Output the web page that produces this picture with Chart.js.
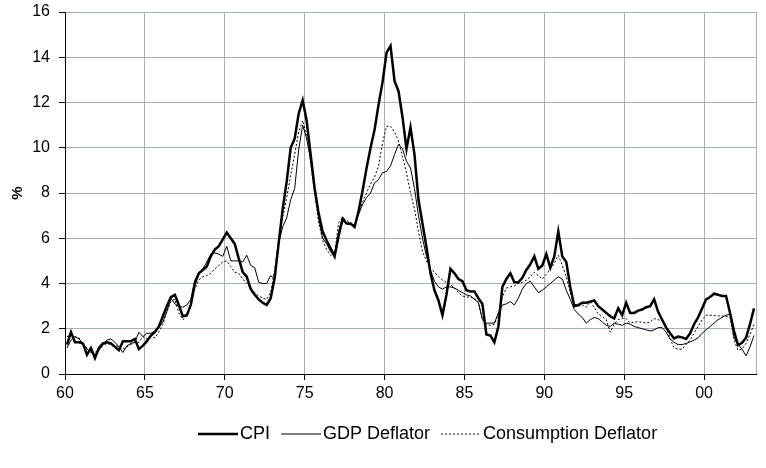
<!DOCTYPE html>
<html>
<head>
<meta charset="utf-8">
<script src="https://cdn.jsdelivr.net/npm/chart.js@4.4.1/dist/chart.umd.min.js"></script>
<style>
  html, body { margin: 0; padding: 0; background: #fff; }
</style>
</head>
<body>
<canvas id="chart" width="766" height="468"></canvas>
<script>
// Inflation, year on year (%), quarterly from 1960Q1
const startYear = 60;

const cpi = [
  1.3, 1.85, 1.4, 1.4, 1.35, 0.85, 1.15, 0.7, 1.15, 1.35,
  1.4, 1.35, 1.2, 1.05, 1.45, 1.45, 1.45, 1.55, 1.1, 1.25,
  1.45, 1.7, 1.85, 2.1, 2.55, 3.0, 3.4, 3.5, 3.05, 2.55,
  2.6, 3.05, 4.0, 4.45, 4.6, 4.75, 5.2, 5.5, 5.65, 5.95,
  6.25, 6.0, 5.75, 5.1, 4.5, 4.3, 3.75, 3.5, 3.3, 3.15,
  3.05, 3.35, 4.25, 5.8, 7.3, 8.5, 10.0, 10.4, 11.5, 12.1,
  11.2, 9.7, 8.2, 7.1, 6.3, 5.9, 5.55, 5.2, 6.1, 6.85,
  6.65, 6.65, 6.5, 7.2, 8.1, 9.1, 10.0, 10.8, 11.9, 12.9,
  14.2, 14.5, 12.95, 12.5, 11.35, 9.95, 10.9, 9.7, 7.7, 6.65,
  5.6, 4.45, 3.7, 3.25, 2.6, 3.5, 4.65, 4.45, 4.2, 4.1,
  3.7, 3.65, 3.65, 3.35, 3.1, 1.75, 1.7, 1.4, 2.1, 3.85,
  4.2, 4.45, 4.05, 4.05, 4.25, 4.6, 4.85, 5.2, 4.65, 4.8,
  5.3, 4.7, 5.2, 6.3, 5.2, 4.95, 3.85, 3.0, 3.05, 3.15,
  3.15, 3.2, 3.25, 3.0, 2.85, 2.7, 2.55, 2.45, 2.9, 2.6,
  3.15, 2.7, 2.7, 2.8, 2.85, 2.95, 3.0, 3.3, 2.75, 2.4,
  2.05, 1.8, 1.57, 1.65, 1.62, 1.55, 1.8, 2.2, 2.5, 2.9,
  3.3, 3.4, 3.55, 3.5, 3.45, 3.45, 2.7, 1.9, 1.28, 1.38,
  1.6, 2.2, 2.9
];

const gdpDeflator = [
  1.15, 1.5, 1.65, 1.55, 1.35, 1.1, 0.95, 0.85, 1.05, 1.3,
  1.5, 1.55, 1.4, 1.2, 0.95, 1.25, 1.35, 1.4, 1.85, 1.65,
  1.8, 1.8, 1.9, 2.05, 2.3, 2.75, 3.35, 3.1, 3.0, 2.95,
  3.05, 3.3, 4.15, 4.45, 4.65, 4.95, 5.3, 5.35, 5.3, 5.2,
  5.65, 5.0, 5.0, 5.0, 4.95, 5.25, 4.8, 4.7, 4.05, 4.0,
  4.0, 4.35, 4.2, 5.8, 6.5, 6.9, 7.7, 8.2, 9.9, 11.0,
  10.4, 9.5, 8.2, 6.9, 6.0, 5.75, 5.4, 5.25, 6.3, 6.95,
  6.65, 6.6, 6.6, 7.05, 7.5, 7.8, 8.0, 8.45, 8.6, 8.9,
  8.95, 9.2, 9.7, 10.15, 9.95, 9.4, 9.1, 8.2, 7.0, 6.0,
  5.2, 4.6, 4.1, 3.85, 3.75, 3.85, 3.85, 3.8, 3.7, 3.6,
  3.5, 3.45, 3.3, 3.15, 2.4, 2.25, 2.25, 2.25, 2.7, 3.05,
  3.1, 3.2, 3.05, 3.35, 3.75, 4.0, 4.1, 3.85, 3.6, 3.7,
  3.85, 4.0, 4.15, 4.3, 4.2, 3.7, 3.3, 2.85, 2.65, 2.5,
  2.25, 2.4, 2.5, 2.45, 2.3, 2.15, 2.1, 2.25, 2.2, 2.15,
  2.25, 2.2, 2.1, 2.05, 2.0, 1.95, 1.9, 1.95, 2.05, 2.05,
  1.85, 1.55, 1.4, 1.3, 1.3, 1.35, 1.42, 1.5, 1.6, 1.8,
  1.95, 2.1, 2.25, 2.4, 2.5, 2.6, 2.65, 1.6, 1.3, 1.1,
  0.8, 1.2, 1.7
];

const consumptionDeflator = [
  1.65, 1.7, 1.65, 1.6, 1.3, 1.15, 0.95, 0.95, 1.1, 1.25,
  1.35, 1.3, 1.25, 1.2, 1.1, 1.2, 1.3, 1.4, 1.4, 1.65,
  1.55, 1.65, 1.6, 1.85, 2.2, 2.75, 3.2, 3.3, 2.7, 2.4,
  2.55, 3.1, 3.75, 4.15, 4.3, 4.35, 4.45, 4.65, 4.8, 4.95,
  5.0, 4.75, 4.5, 4.45, 4.2, 4.0, 3.8, 3.6, 3.45, 3.35,
  3.3, 3.6, 4.6, 5.9, 6.9, 7.8, 8.8, 9.7, 10.7, 11.2,
  10.6, 9.3, 8.0, 6.7, 5.9, 5.5, 5.25, 5.3, 6.7, 6.9,
  6.8, 6.65, 6.5, 7.15, 7.6, 8.0, 8.4, 8.7, 9.2, 10.2,
  10.95, 10.95, 10.7, 10.3, 9.6, 8.9, 8.0, 7.3, 6.3, 5.4,
  5.0, 4.65, 4.5, 4.3, 4.15, 4.05, 3.95, 3.8, 3.6, 3.45,
  3.4, 3.4, 3.35, 3.2, 2.4, 2.2, 2.15, 2.2, 2.65, 3.4,
  3.8, 3.85, 3.9, 4.0, 4.05, 4.15, 4.3, 4.5, 4.35, 4.2,
  4.4, 4.65, 4.9, 5.25, 4.8, 4.3, 3.6, 3.1, 3.0, 3.05,
  2.95, 3.2, 2.95, 2.65, 2.55, 2.4, 1.85, 2.2, 2.4, 2.45,
  2.45, 2.25, 2.3, 2.3, 2.3, 2.25, 2.3, 2.45, 2.4, 2.35,
  2.1, 1.55, 1.15, 1.1, 1.1, 1.3, 1.5, 1.8, 2.1, 2.4,
  2.6, 2.6, 2.58, 2.57, 2.56, 2.55, 2.5, 1.5, 1.05, 1.1,
  1.35, 1.75, 2.2
];

const xTicks = [60, 65, 70, 75, 80, 85, 90, 95, 100];
const yTicks = [0, 2, 4, 6, 8, 10, 12, 14, 16];

// each quarter sits in the middle of its slot
const quarterX = cpi.map((_, i) => startYear + (i + 0.5) / 4);
const toPoints = arr => arr.map((v, i) => ({ x: quarterX[i], y: v }));

const fontFamily = '"Liberation Sans", Arial, sans-serif';
const gridColor = '#a7b1ba';

// grey frame line on the right side of the plot
const rightBorder = {
  id: 'rightBorder',
  beforeDatasetsDraw(chart) {
    const { ctx, chartArea } = chart;
    ctx.save();
    ctx.strokeStyle = gridColor;
    ctx.lineWidth = 1;
    ctx.beginPath();
    ctx.moveTo(chartArea.right + 0.5, chartArea.top);
    ctx.lineTo(chartArea.right + 0.5, chartArea.bottom);
    ctx.stroke();
    ctx.restore();
  }
};

// legend row under the axis: line sample, then the label
const bottomLegend = {
  id: 'bottomLegend',
  afterDraw(chart) {
    const ctx = chart.ctx;
    const y = 434;
    let x = 198;
    ctx.save();
    ctx.font = '18px ' + fontFamily;
    ctx.textBaseline = 'middle';
    ctx.fillStyle = '#000';
    chart.data.datasets.forEach(ds => {
      ctx.beginPath();
      ctx.lineWidth = ds.borderWidth;
      ctx.strokeStyle = ds.borderColor;
      ctx.setLineDash(ds.borderDash || []);
      ctx.moveTo(x, y);
      ctx.lineTo(x + 40, y);
      ctx.stroke();
      ctx.setLineDash([]);
      x += 42;
      ctx.fillText(ds.label, x, y);
      x += ctx.measureText(ds.label).width + 11;
    });
    ctx.restore();
  }
};

new Chart(document.getElementById('chart'), {
  type: 'line',
  data: {
    datasets: [
      {
        label: 'CPI',
        data: toPoints(cpi),
        borderColor: '#000',
        borderWidth: 2.5
      },
      {
        label: 'GDP Deflator',
        data: toPoints(gdpDeflator),
        borderColor: '#000',
        borderWidth: 1
      },
      {
        label: 'Consumption Deflator',
        data: toPoints(consumptionDeflator),
        borderColor: '#000',
        borderWidth: 1,
        borderDash: [2, 2]
      }
    ]
  },
  options: {
    responsive: false,
    animation: false,
    devicePixelRatio: 1,
    layout: { padding: { left: 0, right: 10, top: 12, bottom: 64 } },
    elements: {
      point: { radius: 0 },
      line: { tension: 0, fill: false }
    },
    plugins: {
      legend: { display: false },
      tooltip: { enabled: false }
    },
    scales: {
      x: {
        type: 'linear',
        min: startYear,
        max: startYear + cpi.length / 4,
        afterBuildTicks: s => { s.ticks = xTicks.map(v => ({ value: v })); },
        afterFit: s => { s.height = 30; },
        ticks: {
          autoSkip: false,
          maxRotation: 0,
          padding: 4,
          color: '#000',
          font: { family: fontFamily, size: 16 },
          callback: v => String(v % 100).padStart(2, '0')
        },
        grid: { color: gridColor, lineWidth: 1, tickColor: '#000', tickLength: 6 },
        border: { color: '#000', width: 1 }
      },
      y: {
        min: 0,
        max: 16,
        afterBuildTicks: s => { s.ticks = yTicks.map(v => ({ value: v })); },
        afterFit: s => {
          s.width = 65;
          s.paddingTop = 0;
          s.paddingBottom = 0;
        },
        ticks: {
          padding: 9,
          color: '#000',
          font: { family: fontFamily, size: 16 }
        },
        grid: { color: gridColor, lineWidth: 1, tickColor: '#000', tickLength: 6 },
        border: { color: '#000', width: 1 },
        title: {
          display: true,
          text: '%',
          color: '#000',
          font: { family: fontFamily, size: 15, weight: 'bold' },
          padding: { top: 9, bottom: 0 }
        }
      }
    }
  },
  plugins: [rightBorder, bottomLegend]
});
</script>
</body>
</html>
